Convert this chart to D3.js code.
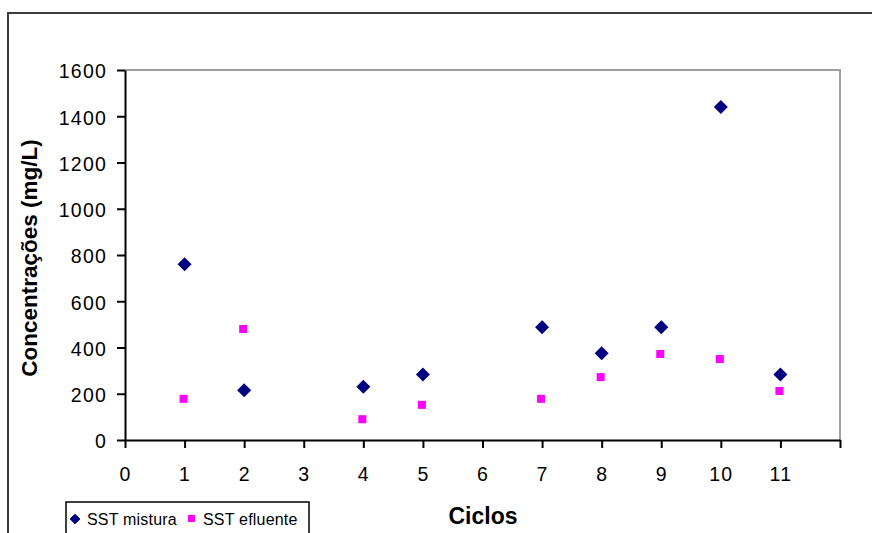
<!DOCTYPE html>
<html>
<head>
<meta charset="utf-8">
<script src="https://cdn.jsdelivr.net/npm/d3@7"></script>
<style>
  html, body { margin: 0; padding: 0; background: #fff; }
  svg { display: block; }
  text { font-family: "Liberation Sans", Arial, sans-serif; }
</style>
</head>
<body>
<svg id="chart" width="872" height="533"></svg>
<script>
const ciclos = [1, 2, 4, 5, 7, 8, 9, 10, 11];
const sstMistura = [760, 215, 230, 283, 488, 375, 488, 1440, 283];
const sstEfluente = [178, 480, 90, 152, 178, 272, 372, 350, 212];
const xTicks = [0,1,2,3,4,5,6,7,8,9,10,11,12];
const xTickLabels = ["0","1","2","3","4","5","6","7","8","9","10","11",""];
const yTicks = [0,200,400,600,800,1000,1200,1400,1600];
const seriesNames = ["SST mistura", "SST efluente"];
const xTitle = "Ciclos";
const yTitle = "Concentrações (mg/L)";

const svg = d3.select("#chart");
const pLeft = 125, pRight = 840, pTop = 70, pBottom = 440;

const x = d3.scaleLinear().domain([0, 12]).range([pLeft, pRight]);
const y = d3.scaleLinear().domain([0, 1600]).range([pBottom, pTop]);

// outer chart border (extends beyond visible area)
svg.append("rect")
  .attr("x", 8).attr("y", 13).attr("width", 900).attr("height", 560)
  .attr("fill", "#fff").attr("stroke", "#3c3c3c").attr("stroke-width", 2);

// plot area frame: top and right gray
svg.append("path")
  .attr("d", `M${pLeft},${pTop}H${pRight}V${pBottom}`)
  .attr("fill", "none").attr("stroke", "#a0a0a0").attr("stroke-width", 2);

// y axis
const yAxis = d3.axisLeft(y).tickValues(yTicks).tickSize(8).tickSizeOuter(0).tickPadding(10).tickFormat(d3.format("d"));
const gy = svg.append("g").attr("transform", `translate(${pLeft},0)`).call(yAxis);
gy.select(".domain").attr("stroke", "#000").attr("stroke-width", 2);
gy.selectAll(".tick line").attr("stroke", "#000").attr("stroke-width", 2);
gy.selectAll(".tick text").attr("font-size", 19.5).attr("fill", "#000")
  .attr("font-family", "Liberation Sans, Arial, sans-serif").attr("letter-spacing", 1.2)
  .attr("dy", "0.4em");

// x axis
const xAxis = d3.axisBottom(x).tickValues(xTicks).tickSize(8).tickSizeOuter(0).tickPadding(19)
  .tickFormat((d, i) => xTickLabels[i]);
const gx = svg.append("g").attr("transform", `translate(0,${pBottom})`).call(xAxis);
gx.select(".domain").attr("stroke", "#000").attr("stroke-width", 2);
gx.selectAll(".tick line").attr("stroke", "#000").attr("stroke-width", 2);
gx.selectAll(".tick text").attr("font-size", 19.5).attr("fill", "#000")
  .attr("font-family", "Liberation Sans, Arial, sans-serif").attr("letter-spacing", 1.2);

// axis titles
svg.append("text")
  .attr("x", 483).attr("y", 524)
  .attr("text-anchor", "middle").attr("font-size", 23).attr("font-weight", "bold")
  .text(xTitle);
svg.append("text")
  .attr("transform", "translate(37,258) rotate(-90)")
  .attr("text-anchor", "middle").attr("font-size", 22.5).attr("font-weight", "bold")
  .text(yTitle);

// markers
const diamond = d3.symbol().type(d3.symbolDiamond2).size(80);
svg.append("g").selectAll("path")
  .data(ciclos.map((c, i) => ({c, v: sstMistura[i]})))
  .join("path")
  .attr("transform", d => `translate(${x(d.c)},${y(d.v)})`)
  .attr("d", diamond)
  .attr("fill", "#000080").attr("stroke", "#000080").attr("stroke-width", 2);

const sq = 8;
svg.append("g").selectAll("rect")
  .data(ciclos.map((c, i) => ({c, v: sstEfluente[i]})))
  .join("rect")
  .attr("x", d => x(d.c) - sq / 2 - 1)
  .attr("y", d => y(d.v) - sq / 2)
  .attr("width", sq).attr("height", sq)
  .attr("fill", "#ff00ff");

// legend
svg.append("rect")
  .attr("x", 66).attr("y", 502).attr("width", 243).attr("height", 50)
  .attr("fill", "#fff").attr("stroke", "#000").attr("stroke-width", 1.5);
svg.append("path")
  .attr("transform", "translate(75,519)")
  .attr("d", d3.symbol().type(d3.symbolDiamond2).size(60))
  .attr("fill", "#000080").attr("stroke", "#000080");
svg.append("text").attr("x", 87).attr("y", 525).attr("font-size", 16).attr("letter-spacing", 0.2)
  .text(seriesNames[0]);
svg.append("rect").attr("x", 188).attr("y", 515).attr("width", 7).attr("height", 7).attr("fill", "#ff00ff");
svg.append("text").attr("x", 203).attr("y", 525).attr("font-size", 16).attr("letter-spacing", 0.2)
  .text(seriesNames[1]);
</script>
</body>
</html>
